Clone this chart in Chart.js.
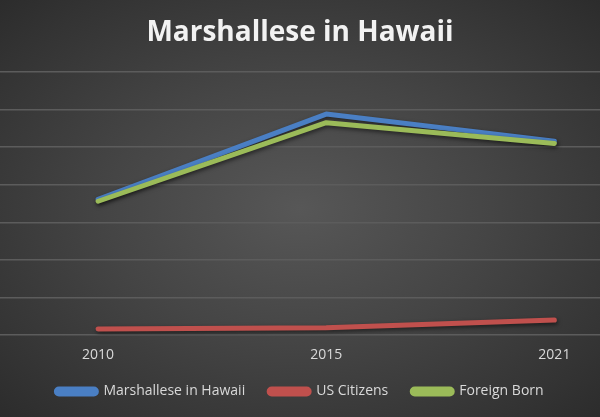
<!DOCTYPE html>
<html>
<head>
<meta charset="utf-8">
<script src="https://cdn.jsdelivr.net/npm/chart.js@4.4.1/dist/chart.umd.min.js"></script>
<style>
  html, body { margin: 0; padding: 0; }
  body {
    width: 600px;
    height: 417px;
    overflow: hidden;
    background: radial-gradient(ellipse at 50% 50%, #575757 0%, #454545 45%, #333333 85%, #2c2c2c 100%);
  }
  #wrap { position: relative; width: 600px; height: 417px; }
</style>
</head>
<body>
<div id="wrap"><canvas id="marshChart"></canvas></div>
<script>
// Data
const years = ["2010", "2015", "2021"];
const marshalleseInHawaii = [7220, 11760, 10320];
const usCitizens = [320, 380, 800];
const foreignBorn = [7120, 11300, 10200];

const lineShadow = {
  id: "lineShadow",
  beforeDatasetDraw(chart) {
    const ctx = chart.ctx;
    ctx.save();
    ctx.shadowColor = "rgba(0,0,0,0.55)";
    ctx.shadowBlur = 4;
    ctx.shadowOffsetX = 1;
    ctx.shadowOffsetY = 2;
  },
  afterDatasetDraw(chart) {
    chart.ctx.restore();
  },
};

function toPoints(values) {
  return values.map((v, i) => ({ x: i, y: v }));
}

const ctx = document.getElementById("marshChart").getContext("2d");
const marshChart = new Chart(ctx, {
  type: "line",
  data: {
    datasets: [
      {
        label: "Marshallese in Hawaii",
        data: toPoints(marshalleseInHawaii),
        borderColor: "#4a7fc4",
        backgroundColor: "#4a7fc4",
        order: 2,
      },
      {
        label: "US Citizens",
        data: toPoints(usCitizens),
        borderColor: "#c0504d",
        backgroundColor: "#c0504d",
        order: 1,
      },
      {
        label: "Foreign Born",
        data: toPoints(foreignBorn),
        borderColor: "#9bbb59",
        backgroundColor: "#9bbb59",
        order: 0,
      },
    ],
  },
  options: {
    responsive: true,
    maintainAspectRatio: false,
    animation: false,
    layout: { padding: { left: 0, right: 0, top: 0, bottom: 8.5 } },
    elements: {
      line: { borderWidth: 5, borderCapStyle: "round", borderJoinStyle: "round", tension: 0 },
      point: { radius: 0, hoverRadius: 0 },
    },
    scales: {
      x: {
        type: "linear",
        min: -0.43,
        max: 2.2,
        afterBuildTicks: (axis) => {
          axis.ticks = years.map((_, i) => ({ value: i }));
        },
        afterFit: (axis) => {
          axis.height = 25.5;
        },
        ticks: {
          callback: (v) => years[v],
          color: "#d9d9d9",
          font: { family: "Open Sans", size: 14 },
          padding: 4,
          maxRotation: 0,
        },
        grid: { display: false },
        border: { display: false },
      },
      y: {
        min: 0,
        max: 14000,
        ticks: { display: false, stepSize: 2000 },
        grid: { color: "#5c5c5c", lineWidth: 1.5, drawTicks: false },
        border: { display: false },
      },
    },
    plugins: {
      title: {
        display: true,
        text: "Marshallese in Hawaii",
        color: "#f2f2f2",
        font: { family: "Open Sans", size: 28, weight: "bold" },
        padding: { top: 16, bottom: 22.4 },
      },
      legend: {
        position: "bottom",
        labels: {
          color: "#d9d9d9",
          font: { family: "Open Sans", size: 14 },
          boxWidth: 40,
          boxHeight: 5,
          padding: 24,
          useBorderRadius: true,
          borderRadius: 2.5,
          sort: (a, b) => a.datasetIndex - b.datasetIndex,
        },
      },
      tooltip: { enabled: false },
    },
  },
  plugins: [lineShadow],
});
</script>
</body>
</html>
